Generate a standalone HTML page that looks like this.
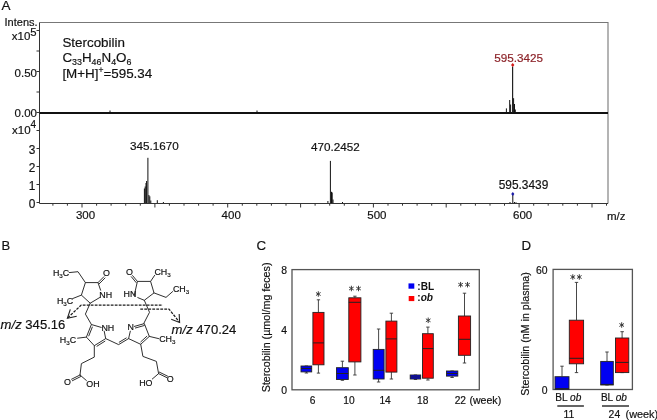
<!DOCTYPE html>
<html><head><meta charset="utf-8"><style>
html,body{margin:0;padding:0;background:#fff;}
svg{display:block;will-change:transform;}
text{font-family:"Liberation Sans",sans-serif;stroke:currentColor;stroke-width:0.18px;}
</style></head><body>
<svg width="657" height="420" viewBox="0 0 657 420">
<rect width="657" height="420" fill="#fff"/>
<text x="1.5" y="10.2" font-size="13.5" fill="#111" color="#111">A</text>
<path d="M39.5 22.5 H608 V203.5" fill="none" stroke="#777" stroke-width="1.1"/>
<path d="M39.5 22.5 V203.5 H608" fill="none" stroke="#333" stroke-width="1"/>
<path d="M39.5 113 H608" stroke="#111" stroke-width="2"/>
<path d="M36.5 30.5 H39.5" stroke="#333" stroke-width="1"/>
<path d="M36.5 51 H39.5" stroke="#333" stroke-width="1"/>
<path d="M36.5 71.5 H39.5" stroke="#333" stroke-width="1"/>
<path d="M36.5 92 H39.5" stroke="#333" stroke-width="1"/>
<path d="M36.5 112.5 H39.5" stroke="#333" stroke-width="1"/>
<path d="M36.5 130.5 H39.5" stroke="#333" stroke-width="1"/>
<path d="M36.5 148.5 H39.5" stroke="#333" stroke-width="1"/>
<path d="M36.5 166.5 H39.5" stroke="#333" stroke-width="1"/>
<path d="M36.5 184.5 H39.5" stroke="#333" stroke-width="1"/>
<path d="M36.5 202.5 H39.5" stroke="#333" stroke-width="1"/>
<text x="37.6" y="25.8" font-size="11" text-anchor="end" fill="#111" color="#111">Intens.</text>
<text x="30.4" y="40.4" font-size="11.5" text-anchor="end" fill="#111" color="#111">x10</text>
<text x="30.3" y="35.7" font-size="11.3" fill="#111" color="#111">5</text>
<text x="37" y="77.4" font-size="11.5" text-anchor="end" fill="#111" color="#111">0.50</text>
<text x="37" y="117.3" font-size="11.5" text-anchor="end" fill="#111" color="#111">0.00</text>
<text x="30.6" y="134" font-size="11.5" text-anchor="end" fill="#111" color="#111">x10</text>
<text x="30.6" y="127.5" font-size="10" fill="#111" color="#111">4</text>
<text x="35.4" y="154.0" font-size="11.9" text-anchor="end" fill="#111" color="#111">3</text>
<text x="35.4" y="172.1" font-size="11.9" text-anchor="end" fill="#111" color="#111">2</text>
<text x="35.4" y="190.2" font-size="11.9" text-anchor="end" fill="#111" color="#111">1</text>
<text x="35.4" y="208.3" font-size="11.9" text-anchor="end" fill="#111" color="#111">0</text>
<path d="M52.9 203.5 V205.7" stroke="#333" stroke-width="1"/>
<path d="M67.4 203.5 V205.7" stroke="#333" stroke-width="1"/>
<path d="M82.0 203.5 V207.5" stroke="#333" stroke-width="1"/>
<path d="M96.6 203.5 V205.7" stroke="#333" stroke-width="1"/>
<path d="M111.1 203.5 V205.7" stroke="#333" stroke-width="1"/>
<path d="M125.7 203.5 V205.7" stroke="#333" stroke-width="1"/>
<path d="M140.3 203.5 V205.7" stroke="#333" stroke-width="1"/>
<path d="M154.9 203.5 V207.5" stroke="#333" stroke-width="1"/>
<path d="M169.4 203.5 V205.7" stroke="#333" stroke-width="1"/>
<path d="M184.0 203.5 V205.7" stroke="#333" stroke-width="1"/>
<path d="M198.6 203.5 V205.7" stroke="#333" stroke-width="1"/>
<path d="M213.1 203.5 V205.7" stroke="#333" stroke-width="1"/>
<path d="M227.7 203.5 V207.5" stroke="#333" stroke-width="1"/>
<path d="M242.3 203.5 V205.7" stroke="#333" stroke-width="1"/>
<path d="M256.8 203.5 V205.7" stroke="#333" stroke-width="1"/>
<path d="M271.4 203.5 V205.7" stroke="#333" stroke-width="1"/>
<path d="M286.0 203.5 V205.7" stroke="#333" stroke-width="1"/>
<path d="M300.6 203.5 V207.5" stroke="#333" stroke-width="1"/>
<path d="M315.1 203.5 V205.7" stroke="#333" stroke-width="1"/>
<path d="M329.7 203.5 V205.7" stroke="#333" stroke-width="1"/>
<path d="M344.3 203.5 V205.7" stroke="#333" stroke-width="1"/>
<path d="M358.8 203.5 V205.7" stroke="#333" stroke-width="1"/>
<path d="M373.4 203.5 V207.5" stroke="#333" stroke-width="1"/>
<path d="M388.0 203.5 V205.7" stroke="#333" stroke-width="1"/>
<path d="M402.5 203.5 V205.7" stroke="#333" stroke-width="1"/>
<path d="M417.1 203.5 V205.7" stroke="#333" stroke-width="1"/>
<path d="M431.7 203.5 V205.7" stroke="#333" stroke-width="1"/>
<path d="M446.2 203.5 V207.5" stroke="#333" stroke-width="1"/>
<path d="M460.8 203.5 V205.7" stroke="#333" stroke-width="1"/>
<path d="M475.4 203.5 V205.7" stroke="#333" stroke-width="1"/>
<path d="M490.0 203.5 V205.7" stroke="#333" stroke-width="1"/>
<path d="M504.5 203.5 V205.7" stroke="#333" stroke-width="1"/>
<path d="M519.1 203.5 V207.5" stroke="#333" stroke-width="1"/>
<path d="M533.7 203.5 V205.7" stroke="#333" stroke-width="1"/>
<path d="M548.2 203.5 V205.7" stroke="#333" stroke-width="1"/>
<path d="M562.8 203.5 V205.7" stroke="#333" stroke-width="1"/>
<path d="M577.4 203.5 V205.7" stroke="#333" stroke-width="1"/>
<path d="M592.0 203.5 V207.5" stroke="#333" stroke-width="1"/>
<path d="M606.5 203.5 V205.7" stroke="#333" stroke-width="1"/>
<text x="85.5" y="219.3" font-size="11.5" text-anchor="middle" fill="#111" color="#111">300</text>
<text x="231.2" y="219.3" font-size="11.5" text-anchor="middle" fill="#111" color="#111">400</text>
<text x="376.9" y="219.3" font-size="11.5" text-anchor="middle" fill="#111" color="#111">500</text>
<text x="522.6" y="219.3" font-size="11.5" text-anchor="middle" fill="#111" color="#111">600</text>
<text x="607" y="219.5" font-size="11.5" fill="#111" color="#111">m/z</text>
<text x="62.4" y="46.6" font-size="13.4" fill="#111" color="#111">Stercobilin</text>
<text x="62.4" y="62" font-size="13.4" fill="#111" color="#111">C<tspan font-size="8.9" dy="3">33</tspan><tspan dy="-3">H</tspan><tspan font-size="8.9" dy="3">46</tspan><tspan dy="-3">N</tspan><tspan font-size="8.9" dy="3">4</tspan><tspan dy="-3">O</tspan><tspan font-size="8.9" dy="3">6</tspan></text>
<text x="62.4" y="77.6" font-size="13.4" fill="#111" color="#111">[M+H]<tspan font-size="8.5" dy="-5">+</tspan><tspan dy="5">=595.34</tspan></text>
<path d="M506.4 112.5 V108.4" stroke="#111" stroke-width="1"/>
<path d="M509.7 112.5 V100.0" stroke="#111" stroke-width="1"/>
<path d="M510.6 112.5 V104.5" stroke="#111" stroke-width="1"/>
<path d="M513.6 112.5 V98.2" stroke="#111" stroke-width="1"/>
<path d="M514.5 112.5 V104.0" stroke="#111" stroke-width="1"/>
<path d="M515.3 112.5 V109.5" stroke="#111" stroke-width="1"/>
<path d="M512.6 112.5 V66.5" stroke="#222" stroke-width="1.2"/>
<path d="M512.7 63.1 L514.4000000000001 65 L512.7 66.9 L511.00000000000006 65 Z" fill="#d41818"/>
<text x="518.7" y="61.5" font-size="11.7" text-anchor="middle" fill="#8c2228" color="#8c2228">595.3425</text>
<path d="M110.0 112 V110.5" stroke="#111" stroke-width="1"/>
<path d="M257.0 112 V110.5" stroke="#111" stroke-width="1"/>
<path d="M144.4 203 V188.5" stroke="#111" stroke-width="1"/>
<path d="M145.2 203 V186.5" stroke="#111" stroke-width="1"/>
<path d="M146.0 203 V183.0" stroke="#111" stroke-width="1"/>
<path d="M146.6 203 V181.0" stroke="#111" stroke-width="1"/>
<path d="M147.9 203 V157.8" stroke="#111" stroke-width="1"/>
<path d="M148.9 203 V195.0" stroke="#111" stroke-width="1"/>
<path d="M149.8 203 V196.3" stroke="#111" stroke-width="1"/>
<path d="M150.8 203 V200.5" stroke="#111" stroke-width="1"/>
<path d="M157.3 203 V200.2" stroke="#111" stroke-width="1"/>
<path d="M163.4 203 V202.0" stroke="#111" stroke-width="1"/>
<path d="M327.9 203 V201.0" stroke="#111" stroke-width="1"/>
<path d="M330.4 203 V160.9" stroke="#111" stroke-width="1"/>
<path d="M331.5 203 V191.8" stroke="#111" stroke-width="1"/>
<path d="M332.2 203 V192.5" stroke="#111" stroke-width="1"/>
<path d="M333.0 203 V199.5" stroke="#111" stroke-width="1"/>
<path d="M342.5 203 V202.0" stroke="#111" stroke-width="1"/>
<path d="M510.0 203 V202.0" stroke="#111" stroke-width="1"/>
<path d="M512.8 203 V195.0" stroke="#111" stroke-width="1"/>
<path d="M514.5 203 V202.0" stroke="#111" stroke-width="1"/>
<path d="M516.0 203 V202.3" stroke="#111" stroke-width="1"/>
<path d="M512.8 191.9 L514.4 193.9 L512.8 195.9 L511.19999999999993 193.9 Z" fill="#1c1ca8"/>
<text x="154.3" y="149.9" font-size="11.7" text-anchor="middle" fill="#111" color="#111">345.1670</text>
<text x="335.4" y="150.6" font-size="11.7" text-anchor="middle" fill="#111" color="#111">470.2452</text>
<text x="523.5" y="188.6" font-size="11.9" text-anchor="middle" fill="#111" color="#111">595.3439</text>
<text x="1.6" y="249.5" font-size="13" fill="#111" color="#111">B</text>
<path d="M69.2 272.6 L78.0 271.7 L85.4 282.6 L98.0 282.6 L100.6 290.2" stroke="#303030" stroke-width="1.0" fill="none" stroke-linecap="round"/>
<path d="M99.6 297.6 L90.2 303.2 L81.4 295.1 L85.4 282.6" stroke="#303030" stroke-width="1.0" fill="none" stroke-linecap="round"/>
<path d="M81.4 295.1 L72.6 298.6" stroke="#303030" stroke-width="1.0" fill="none" stroke-linecap="round"/>
<path d="M98.0 282.6 L103.8 276.8" stroke="#303030" stroke-width="1.0" fill="none" stroke-linecap="round"/>
<path d="M99.2 283.8 L105.0 278.0" stroke="#303030" stroke-width="1.0" fill="none" stroke-linecap="round"/>
<text x="103" y="276.4" font-size="8.9" text-anchor="start" fill="#111" color="#111">O</text>
<text x="99.3" y="298" font-size="8.9" text-anchor="start" fill="#111" color="#111">NH</text>
<text x="52.9" y="276.1" font-size="8.9" text-anchor="start" fill="#111" color="#111">H<tspan font-size="6.2" dy="1.8">3</tspan><tspan dy="-1.8">C</tspan></text>
<text x="56.9" y="303.7" font-size="8.9" text-anchor="start" fill="#111" color="#111">H<tspan font-size="6.2" dy="1.8">3</tspan><tspan dy="-1.8">C</tspan></text>
<path d="M134.3 295.2 L137.4 281.4 L150.6 281.4 L154.0 292.9 L144.3 300.3 L137.8 297.6" stroke="#303030" stroke-width="1.0" fill="none" stroke-linecap="round"/>
<path d="M137.4 281.4 L132.6 275.6" stroke="#303030" stroke-width="1.0" fill="none" stroke-linecap="round"/>
<path d="M136.1 282.5 L131.3 276.7" stroke="#303030" stroke-width="1.0" fill="none" stroke-linecap="round"/>
<path d="M150.6 281.4 L154.6 275.4" stroke="#303030" stroke-width="1.0" fill="none" stroke-linecap="round"/>
<path d="M154.0 292.9 L166.0 297.4 L172.6 291.6" stroke="#303030" stroke-width="1.0" fill="none" stroke-linecap="round"/>
<text x="125.9" y="275.4" font-size="8.9" text-anchor="start" fill="#111" color="#111">O</text>
<text x="123.6" y="297.2" font-size="8.9" text-anchor="start" fill="#111" color="#111">HN</text>
<text x="154.4" y="274.9" font-size="8.9" text-anchor="start" fill="#111" color="#111">CH<tspan font-size="6.2" dy="1.8">3</tspan></text>
<text x="172.9" y="292.2" font-size="8.9" text-anchor="start" fill="#111" color="#111">CH<tspan font-size="6.2" dy="1.8">3</tspan></text>
<path d="M90.2 303.2 L85.4 314.1 L91.4 324.5" stroke="#303030" stroke-width="1.0" fill="none" stroke-linecap="round"/>
<path d="M144.3 300.3 L149.5 312.3 L143.8 323.4" stroke="#303030" stroke-width="1.0" fill="none" stroke-linecap="round"/>
<path d="M101.2 327.4 L91.4 324.5 L86.4 337.1 L94.3 345.7 L105.7 338.6 L104.2 331.2" stroke="#303030" stroke-width="1.0" fill="none" stroke-linecap="round"/>
<path d="M92.3 327.1 L88.8 335.9" stroke="#303030" stroke-width="1.0" fill="none" stroke-linecap="round"/>
<path d="M97.0 346.2 L104.9 341.2" stroke="#303030" stroke-width="1.0" fill="none" stroke-linecap="round"/>
<path d="M86.4 337.1 L77.6 338.2" stroke="#303030" stroke-width="1.0" fill="none" stroke-linecap="round"/>
<text x="59.8" y="342.9" font-size="8.9" text-anchor="start" fill="#111" color="#111">H<tspan font-size="6.2" dy="1.8">3</tspan><tspan dy="-1.8">C</tspan></text>
<text x="101.4" y="330.6" font-size="8.9" text-anchor="start" fill="#111" color="#111">NH</text>
<path d="M105.7 338.6 L118.6 344.6 L128.6 338.6" stroke="#303030" stroke-width="1.0" fill="none" stroke-linecap="round"/>
<path d="M119.2 342.2 L126.2 338.0" stroke="#303030" stroke-width="1.0" fill="none" stroke-linecap="round"/>
<path d="M134.4 326.4 L144.3 323.6 L149.3 336.4 L140.7 344.3 L128.6 338.6 L130.3 331.2" stroke="#303030" stroke-width="1.0" fill="none" stroke-linecap="round"/>
<path d="M135.4 328.0 L144.3 325.5" stroke="#303030" stroke-width="1.0" fill="none" stroke-linecap="round"/>
<path d="M146.8 336.3 L140.8 341.8" stroke="#303030" stroke-width="1.0" fill="none" stroke-linecap="round"/>
<path d="M149.3 336.4 L158.6 338.6" stroke="#303030" stroke-width="1.0" fill="none" stroke-linecap="round"/>
<text x="127.6" y="330.2" font-size="8.9" text-anchor="start" fill="#111" color="#111">N</text>
<text x="159.2" y="342.3" font-size="8.9" text-anchor="start" fill="#111" color="#111">CH<tspan font-size="6.2" dy="1.8">3</tspan></text>
<path d="M94.3 345.7 L94.3 357.1 L81.4 363.6 L80.0 375.0" stroke="#303030" stroke-width="1.0" fill="none" stroke-linecap="round"/>
<path d="M80.0 375.0 L71.6 379.2" stroke="#303030" stroke-width="1.0" fill="none" stroke-linecap="round"/>
<path d="M80.8 376.5 L72.4 380.7" stroke="#303030" stroke-width="1.0" fill="none" stroke-linecap="round"/>
<path d="M80.0 375.0 L86.4 380.5" stroke="#303030" stroke-width="1.0" fill="none" stroke-linecap="round"/>
<text x="63.9" y="385" font-size="8.9" text-anchor="start" fill="#111" color="#111">O</text>
<text x="86.3" y="387.4" font-size="8.9" text-anchor="start" fill="#111" color="#111">OH</text>
<path d="M140.7 344.3 L142.9 356.4 L156.4 361.4 L158.6 373.6" stroke="#303030" stroke-width="1.0" fill="none" stroke-linecap="round"/>
<path d="M158.6 373.6 L166.8 377.6" stroke="#303030" stroke-width="1.0" fill="none" stroke-linecap="round"/>
<path d="M159.3 372.1 L167.5 376.1" stroke="#303030" stroke-width="1.0" fill="none" stroke-linecap="round"/>
<path d="M158.6 373.6 L152.3 379.0" stroke="#303030" stroke-width="1.0" fill="none" stroke-linecap="round"/>
<text x="166.8" y="382.3" font-size="8.9" text-anchor="start" fill="#111" color="#111">O</text>
<text x="139.2" y="385.7" font-size="8.9" text-anchor="start" fill="#111" color="#111">HO</text>
<path d="M67.8 317.8 L81.2 305.1 H162.8" stroke="#1a1a1a" stroke-width="1.25" fill="none" stroke-dasharray="2.8 1.2"/>
<path d="M140.3 309 H168.9 L179.2 321.8" stroke="#1a1a1a" stroke-width="1.25" fill="none" stroke-dasharray="2.8 1.2"/>
<path d="M70.3 309.3 L67.4 318.3 L76.7 316.3" stroke="#222" stroke-width="1.1" fill="none"/>
<path d="M179.2 314 L179.6 322.4 L171.2 319.3" stroke="#222" stroke-width="1.1" fill="none"/>
<text x="0.6" y="328.5" font-size="13.1" fill="#111" color="#111"><tspan font-style="italic">m/z</tspan> 345.16</text>
<text x="171.6" y="334" font-size="13.1" fill="#111" color="#111"><tspan font-style="italic">m/z</tspan> 470.24</text>
<text x="256.4" y="249.8" font-size="13.3" fill="#111" color="#111">C</text>
<rect x="292" y="269.6" width="187.3" height="120.19999999999999" fill="none" stroke="#555" stroke-width="1.3"/>
<text x="287.1" y="393.7" font-size="10.4" text-anchor="end" fill="#111" color="#111">0</text>
<text x="287.1" y="334.4" font-size="10.4" text-anchor="end" fill="#111" color="#111">4</text>
<text x="287.1" y="273.6" font-size="10.4" text-anchor="end" fill="#111" color="#111">8</text>
<text transform="translate(270.2 327.4) rotate(-90)" font-size="10.7" text-anchor="middle" fill="#111" color="#111">Stercobilin (µmol/mg feces)</text>
<path d="M306.4 366 V366 M306.4 371.9 V373 M304.7 366 H308.1 M304.7 373 H308.1" stroke="#333" stroke-width="0.9"/>
<rect x="301" y="366" width="10.699999999999989" height="5.899999999999977" fill="#0000f2" stroke="#222" stroke-width="0.9"/>
<path d="M301 368.5 H311.7" stroke="#222" stroke-width="1"/>
<path d="M318.4 299.8 V312.4 M318.4 364.8 V373.1 M316.8 299.8 H320.1 M316.8 373.1 H320.1" stroke="#333" stroke-width="0.9"/>
<rect x="312.9" y="312.4" width="11.100000000000023" height="52.400000000000034" fill="#ff0000" stroke="#222" stroke-width="0.9"/>
<path d="M312.9 342.9 H324" stroke="#222" stroke-width="1"/>
<path d="M342.4 361.2 V367.7 M342.4 379.5 V380.3 M340.7 361.2 H344.1 M340.7 380.3 H344.1" stroke="#333" stroke-width="0.9"/>
<rect x="336.5" y="367.7" width="11.800000000000011" height="11.800000000000011" fill="#0000f2" stroke="#222" stroke-width="0.9"/>
<path d="M336.5 373.5 H348.3" stroke="#222" stroke-width="1"/>
<path d="M354.9 296.2 V297.8 M354.9 361.9 V375 M353.2 296.2 H356.6 M353.2 375 H356.6" stroke="#333" stroke-width="0.9"/>
<rect x="348.8" y="297.8" width="12.099999999999966" height="64.09999999999997" fill="#ff0000" stroke="#222" stroke-width="0.9"/>
<path d="M348.8 302.3 H360.9" stroke="#222" stroke-width="1"/>
<path d="M378.6 329 V349.4 M378.6 379 V382 M376.9 329 H380.3 M376.9 382 H380.3" stroke="#333" stroke-width="0.9"/>
<rect x="373.2" y="349.4" width="10.900000000000034" height="29.600000000000023" fill="#0000f2" stroke="#222" stroke-width="0.9"/>
<path d="M373.2 370.3 H384.1" stroke="#222" stroke-width="1"/>
<path d="M391.4 313.2 V321.1 M391.4 372.1 V379 M389.7 313.2 H393.1 M389.7 379 H393.1" stroke="#333" stroke-width="0.9"/>
<rect x="385.9" y="321.1" width="11.0" height="51.0" fill="#ff0000" stroke="#222" stroke-width="0.9"/>
<path d="M385.9 338.9 H396.9" stroke="#222" stroke-width="1"/>
<path d="M415.4 375 V375 M415.4 379 V379.5 M413.8 375 H417.1 M413.8 379.5 H417.1" stroke="#333" stroke-width="0.9"/>
<rect x="410.2" y="375" width="10.5" height="4" fill="#0000f2" stroke="#222" stroke-width="0.9"/>
<path d="M410.2 377 H420.7" stroke="#222" stroke-width="1"/>
<path d="M427.9 327.1 V333.7 M427.9 378.2 V380 M426.2 327.1 H429.6 M426.2 380 H429.6" stroke="#333" stroke-width="0.9"/>
<rect x="422.5" y="333.7" width="10.800000000000011" height="44.5" fill="#ff0000" stroke="#222" stroke-width="0.9"/>
<path d="M422.5 348.6 H433.3" stroke="#222" stroke-width="1"/>
<path d="M452.1 371 V371 M452.1 376.1 V377.5 M450.4 371 H453.8 M450.4 377.5 H453.8" stroke="#333" stroke-width="0.9"/>
<rect x="446.5" y="371" width="11.300000000000011" height="5.100000000000023" fill="#0000f2" stroke="#222" stroke-width="0.9"/>
<path d="M446.5 373.5 H457.8" stroke="#222" stroke-width="1"/>
<path d="M464.5 293.2 V316 M464.5 355.3 V363 M462.8 293.2 H466.2 M462.8 363 H466.2" stroke="#333" stroke-width="0.9"/>
<rect x="458.4" y="316" width="12.200000000000045" height="39.30000000000001" fill="#ff0000" stroke="#222" stroke-width="0.9"/>
<path d="M458.4 339.3 H470.6" stroke="#222" stroke-width="1"/>
<path d="M318.30 291.25 V296.75 M315.99 292.50 L320.61 295.50 M315.99 295.50 L320.61 292.50" stroke="#333" stroke-width="0.95" fill="none"/>
<path d="M351.40 285.75 V291.25 M349.09 287.00 L353.71 290.00 M349.09 290.00 L353.71 287.00" stroke="#333" stroke-width="0.95" fill="none"/>
<path d="M358.50 285.75 V291.25 M356.19 287.00 L360.81 290.00 M356.19 290.00 L360.81 287.00" stroke="#333" stroke-width="0.95" fill="none"/>
<path d="M428.20 317.55 V323.05 M425.89 318.80 L430.51 321.80 M425.89 321.80 L430.51 318.80" stroke="#333" stroke-width="0.95" fill="none"/>
<path d="M460.60 281.95 V287.45 M458.29 283.20 L462.91 286.20 M458.29 286.20 L462.91 283.20" stroke="#333" stroke-width="0.95" fill="none"/>
<path d="M467.50 281.95 V287.45 M465.19 283.20 L469.81 286.20 M465.19 286.20 L469.81 283.20" stroke="#333" stroke-width="0.95" fill="none"/>
<rect x="408.5" y="283.4" width="5.8" height="5.3" fill="#0000f2"/>
<rect x="408.7" y="296" width="5.6" height="5.1" fill="#ff0000"/>
<text x="417.3" y="289.5" font-size="10.1" font-weight="bold" fill="#111" color="#111" style="stroke-width:0">:BL</text>
<text x="417.3" y="300.9" font-size="10.1" font-weight="bold" fill="#111" color="#111" style="stroke-width:0">:<tspan font-style="italic">ob</tspan></text>
<text x="312.5" y="403.7" font-size="10.2" text-anchor="middle" fill="#111" color="#111">6</text>
<text x="349" y="403.7" font-size="10.2" text-anchor="middle" fill="#111" color="#111">10</text>
<text x="385.1" y="403.7" font-size="10.2" text-anchor="middle" fill="#111" color="#111">14</text>
<text x="422.7" y="403.7" font-size="10.2" text-anchor="middle" fill="#111" color="#111">18</text>
<text x="460.3" y="403.7" font-size="10.2" text-anchor="middle" fill="#111" color="#111">22</text>
<text x="469.4" y="403.7" font-size="10.6" fill="#111" color="#111">(week)</text>
<text x="521.6" y="250" font-size="13.3" fill="#111" color="#111">D</text>
<rect x="553.1" y="269.4" width="79.29999999999995" height="120.10000000000002" fill="none" stroke="#555" stroke-width="1.3"/>
<text x="547.6" y="273.6" font-size="10.4" text-anchor="end" fill="#111" color="#111">60</text>
<text x="547.6" y="393.9" font-size="10.4" text-anchor="end" fill="#111" color="#111">0</text>
<text transform="translate(529.1 333.9) rotate(-90)" font-size="10.7" text-anchor="middle" fill="#111" color="#111">Stercobilin (nM in plasma)</text>
<path d="M562.0 366.2 V376.7 M562.0 389.3 V389.3 M560.3 366.2 H563.7 M560.3 389.3 H563.7" stroke="#333" stroke-width="0.9"/>
<rect x="555" y="376.7" width="14" height="12.600000000000023" fill="#0000f2" stroke="#222" stroke-width="0.9"/>
<path d="M555 388.6 H569" stroke="#222" stroke-width="1"/>
<path d="M576.5 282.4 V320.2 M576.5 363.8 V372.6 M574.8 282.4 H578.2 M574.8 372.6 H578.2" stroke="#333" stroke-width="0.9"/>
<rect x="569.3" y="320.2" width="14.300000000000068" height="43.60000000000002" fill="#ff0000" stroke="#222" stroke-width="0.9"/>
<path d="M569.3 358.3 H583.6" stroke="#222" stroke-width="1"/>
<path d="M607.0 352 V361.4 M607.0 385 V385 M605.3 352 H608.7 M605.3 385 H608.7" stroke="#333" stroke-width="0.9"/>
<rect x="600.7" y="361.4" width="12.599999999999909" height="23.600000000000023" fill="#0000f2" stroke="#222" stroke-width="0.9"/>
<path d="M600.7 384.4 H613.3" stroke="#222" stroke-width="1"/>
<path d="M622.1 331.7 V338 M622.1 372.6 V372.6 M620.4 331.7 H623.9 M620.4 372.6 H623.9" stroke="#333" stroke-width="0.9"/>
<rect x="615.5" y="338" width="13.299999999999955" height="34.60000000000002" fill="#ff0000" stroke="#222" stroke-width="0.9"/>
<path d="M615.5 362.4 H628.8" stroke="#222" stroke-width="1"/>
<path d="M572.80 274.25 V279.75 M570.49 275.50 L575.11 278.50 M570.49 278.50 L575.11 275.50" stroke="#333" stroke-width="0.95" fill="none"/>
<path d="M579.30 274.25 V279.75 M576.99 275.50 L581.61 278.50 M576.99 278.50 L581.61 275.50" stroke="#333" stroke-width="0.95" fill="none"/>
<path d="M621.70 322.25 V327.75 M619.39 323.50 L624.01 326.50 M619.39 326.50 L624.01 323.50" stroke="#333" stroke-width="0.95" fill="none"/>
<text x="555.3" y="400.8" font-size="10.1" fill="#111" color="#111">BL <tspan font-style="italic">ob</tspan></text>
<text x="600.9" y="400.8" font-size="10.1" fill="#111" color="#111">BL <tspan font-style="italic">ob</tspan></text>
<path d="M557.3 406 H583.9 M602 406 H629" stroke="#333" stroke-width="1.6"/>
<text x="568.9" y="417.6" font-size="10.4" text-anchor="middle" fill="#111" color="#111">11</text>
<text x="614.4" y="417.6" font-size="10.4" text-anchor="middle" fill="#111" color="#111">24</text>
<text x="625.5" y="417.6" font-size="10.9" fill="#111" color="#111">(week)</text>
</svg></body></html>
